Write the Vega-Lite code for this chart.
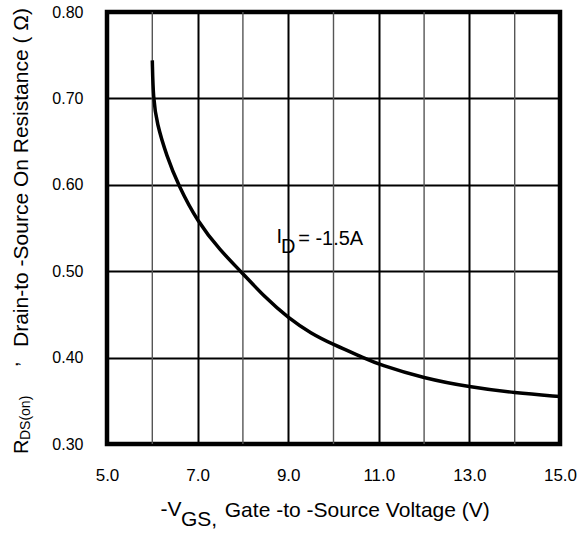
{
  "$schema": "https://vega.github.io/schema/vega-lite/v6.json",
  "width": 453,
  "height": 432,
  "autosize": {"type": "none"},
  "padding": {"left": 107, "top": 12, "right": 24, "bottom": 89},
  "background": "white",
  "config": {
    "view": {"stroke": "black", "strokeWidth": 4.5},
    "font": "Liberation Sans",
    "text": {"font": "Liberation Sans", "color": "black"},
    "axisX": {"format": ".1f", "grid": true,
              "gridColor": "black", "gridWidth": 2, "gridOpacity": 1,
              "domain": false, "ticks": false, "tickSize": 0, "labelPadding": 23,
              "labelFontSize": 17, "labelColor": "black", "labelFont": "Liberation Sans",
              "labelFlush": false, "title": null},
    "axisY": {"format": ".2f", "grid": true,
              "gridColor": "black", "gridWidth": 2.2, "gridOpacity": 1,
              "domain": false, "ticks": false, "tickSize": 0, "labelPadding": 24,
              "labelFontSize": 16, "labelColor": "black", "labelFont": "Liberation Sans",
              "labelFlush": false, "title": null}
  },
  "layer": [
    {
      "data": {"values": [{"x": 6}, {"x": 8}, {"x": 10}, {"x": 12}, {"x": 14}]},
      "mark": {"type": "rule", "color": "#555555", "strokeWidth": 1.4},
      "encoding": {
        "x": {"field": "x", "type": "quantitative", "scale": {"domain": [5, 15], "nice": false, "zero": false}, "title": null,
              "axis": {"values": [5, 7, 9, 11, 13, 15]}}
      }
    },
    {
      "data": {"values": [
        {"x": 6.0, "y": 0.744}, {"x": 6.02, "y": 0.700}, {"x": 6.1, "y": 0.671},
        {"x": 6.32, "y": 0.633}, {"x": 6.57, "y": 0.600}, {"x": 7.0, "y": 0.557},
        {"x": 7.5, "y": 0.524}, {"x": 7.95, "y": 0.500}, {"x": 8.5, "y": 0.469},
        {"x": 9.0, "y": 0.446}, {"x": 9.5, "y": 0.428}, {"x": 10.0, "y": 0.415},
        {"x": 10.66, "y": 0.400}, {"x": 11.0, "y": 0.392}, {"x": 12.0, "y": 0.376},
        {"x": 13.0, "y": 0.366}, {"x": 14.0, "y": 0.359}, {"x": 15.0, "y": 0.355}
      ]},
      "mark": {"type": "line", "color": "black", "strokeWidth": 3.5, "interpolate": "basis"},
      "encoding": {
        "x": {"field": "x", "type": "quantitative", "scale": {"domain": [5, 15], "nice": false, "zero": false}, "title": null,
              "axis": {"values": [5, 7, 9, 11, 13, 15]}},
        "y": {"field": "y", "type": "quantitative", "scale": {"domain": [0.3, 0.8], "nice": false, "zero": false}, "title": null,
              "axis": {"values": [0.3, 0.4, 0.5, 0.6, 0.7, 0.8]}}
      }
    },
    {
      "data": {"values": [
        {"x": 8.74, "y": 0.5326, "t": "I"},
        {"x": 8.84, "y": 0.5205, "t": "D"},
        {"x": 9.22, "y": 0.5303, "t": "=  -1.5A"}
      ]},
      "mark": {"type": "text", "align": "left", "baseline": "alphabetic", "fontSize": 20, "color": "black"},
      "encoding": {
        "x": {"field": "x", "type": "quantitative", "scale": {"domain": [5, 15], "nice": false, "zero": false}, "title": null,
              "axis": {"values": [5, 7, 9, 11, 13, 15]}},
        "y": {"field": "y", "type": "quantitative", "scale": {"domain": [0.3, 0.8], "nice": false, "zero": false}, "title": null,
              "axis": {"values": [0.3, 0.4, 0.5, 0.6, 0.7, 0.8]}},
        "text": {"field": "t"}
      }
    },
    {
      "data": {"values": [
        {"x": 6.181, "y": 0.2167, "t": "-V"},
        {"x": 6.634, "y": 0.2051, "t": "GS,"},
        {"x": 7.6, "y": 0.2155, "t": "Gate -to -Source Voltage  (V)"}
      ]},
      "mark": {"type": "text", "align": "left", "baseline": "alphabetic", "fontSize": 21, "color": "black"},
      "encoding": {
        "x": {"field": "x", "type": "quantitative", "scale": {"domain": [5, 15], "nice": false, "zero": false}, "title": null,
              "axis": {"values": [5, 7, 9, 11, 13, 15]}},
        "y": {"field": "y", "type": "quantitative", "scale": {"domain": [0.3, 0.8], "nice": false, "zero": false}, "title": null,
              "axis": {"values": [0.3, 0.4, 0.5, 0.6, 0.7, 0.8]}},
        "text": {"field": "t"}
      }
    },
    {
      "data": {"values": [
        {"x": 3.256, "y": 0.2884, "t": "R", "s": 20},
        {"x": 3.300, "y": 0.3046, "t": "DS(on)", "s": 14},
        {"x": 3.035, "y": 0.3891, "t": ",", "s": 20},
        {"x": 3.256, "y": 0.4123, "t": "Drain-to -Source On Resistance ( Ω)", "s": 21}
      ]},
      "mark": {"type": "text", "align": "left", "baseline": "alphabetic", "angle": 270, "color": "black"},
      "encoding": {
        "x": {"field": "x", "type": "quantitative", "scale": {"domain": [5, 15], "nice": false, "zero": false}, "title": null,
              "axis": {"values": [5, 7, 9, 11, 13, 15]}},
        "y": {"field": "y", "type": "quantitative", "scale": {"domain": [0.3, 0.8], "nice": false, "zero": false}, "title": null,
              "axis": {"values": [0.3, 0.4, 0.5, 0.6, 0.7, 0.8]}},
        "text": {"field": "t"},
        "size": {"field": "s", "type": "quantitative", "scale": null, "legend": null}
      }
    }
  ]
}
